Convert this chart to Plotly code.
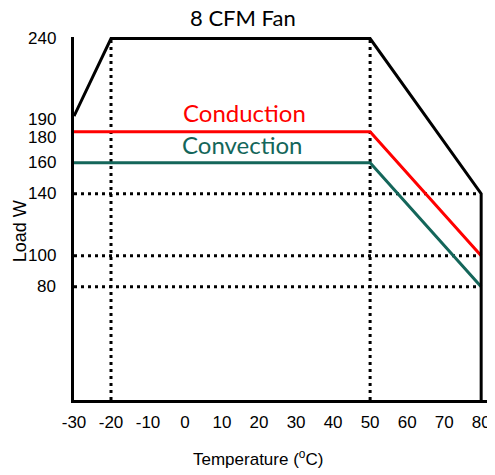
import plotly.graph_objects as go

# ---- data ----
Y_MIN = 7          # axis floor
temp_max = [-30, -20, 50, 80, 80]
load_max = [190, 240, 240, 140, Y_MIN]

temp_cond = [-30, 50, 80]
load_cond = [180, 180, 100]

temp_conv = [-30, 50, 80]
load_conv = [160, 160, 80]

guide_temps = [-20, 50]          # vertical dotted guides (to 240)
guide_loads = [140, 100, 80]     # horizontal dotted guides
guide_top = 240

x_ticks = [-30, -20, -10, 0, 10, 20, 30, 40, 50, 60, 70, 80]
y_ticks = [80, 100, 140, 160, 180, 190, 240]

BLACK = "#000000"
RED = "#ff0000"
TEAL = "#14665a"

# pixel nudges for crowded y labels (style, not data)
y_label_nudge = {190: -3, 180: -6}

fig = go.Figure()

dot = dict(color=BLACK, width=3, dash="3px,4px")
for t in guide_temps:
    fig.add_trace(go.Scatter(x=[t, t], y=[Y_MIN, guide_top], mode="lines",
                             line=dot, hoverinfo="skip", cliponaxis=False))
for l in guide_loads:
    fig.add_trace(go.Scatter(x=[x_ticks[0], x_ticks[-1]], y=[l, l], mode="lines",
                             line=dot, hoverinfo="skip", cliponaxis=False))

fig.add_trace(go.Scatter(x=temp_conv, y=load_conv, mode="lines",
                         line=dict(color=TEAL, width=3), name="Convection", cliponaxis=False))
fig.add_trace(go.Scatter(x=temp_cond, y=load_cond, mode="lines",
                         line=dict(color=RED, width=3), name="Conduction", cliponaxis=False))
fig.add_trace(go.Scatter(x=temp_max, y=load_max, mode="lines",
                         line=dict(color=BLACK, width=3), name="Max", cliponaxis=False))

annotations = [
    dict(text="8 CFM Fan", x=0.403, y=1.0, xref="paper", yref="paper",
         yshift=20, showarrow=False, xanchor="center", yanchor="middle",
         font=dict(family="Lato", size=22, color=BLACK)),
    dict(text="Conduction", x=16, y=180, yshift=19, showarrow=False,
         xanchor="center", yanchor="middle",
         font=dict(family="Lato", size=24, color=RED)),
    dict(text="Convection", x=15.5, y=160, yshift=18, showarrow=False,
         xanchor="center", yanchor="middle",
         font=dict(family="Lato", size=24, color=TEAL)),
    dict(text="Load W", x=0, y=0.465, xref="paper", yref="paper", xshift=-54,
         textangle=-90, showarrow=False, xanchor="center", yanchor="middle",
         font=dict(family="Liberation Sans, Arial", size=18, color=BLACK)),
    dict(text="Temperature (<sup>o</sup>C)", x=0.44, y=0, xref="paper", yref="paper",
         yshift=-58, showarrow=False, xanchor="center", yanchor="middle",
         font=dict(family="Liberation Sans, Arial", size=17, color=BLACK)),
]
for v in y_ticks:
    annotations.append(dict(text=str(v), x=0, xref="paper", y=v, yref="y",
                            xshift=-16, yshift=y_label_nudge.get(v, 0),
                            showarrow=False, xanchor="right", yanchor="middle",
                            font=dict(family="Liberation Sans, Arial", size=17, color=BLACK)))

fig.update_layout(
    width=487, height=467,
    margin=dict(l=66, r=2, t=29, b=75),
    paper_bgcolor="white", plot_bgcolor="white",
    showlegend=False,
    font=dict(family="Liberation Sans, Arial", size=17, color=BLACK),
    annotations=annotations,
)

fig.update_xaxes(range=[-30, 83.2], tickvals=x_ticks, ticktext=[str(v) for v in x_ticks],
                 showgrid=False, zeroline=False, showline=True, linecolor=BLACK,
                 linewidth=3, ticks="", ticklabelstandoff=5, fixedrange=True)
fig.update_yaxes(range=[Y_MIN, 241], showticklabels=False,
                 showgrid=False, zeroline=False, showline=True, linecolor=BLACK,
                 linewidth=3, ticks="", fixedrange=True)

fig.write_html("out.html")
